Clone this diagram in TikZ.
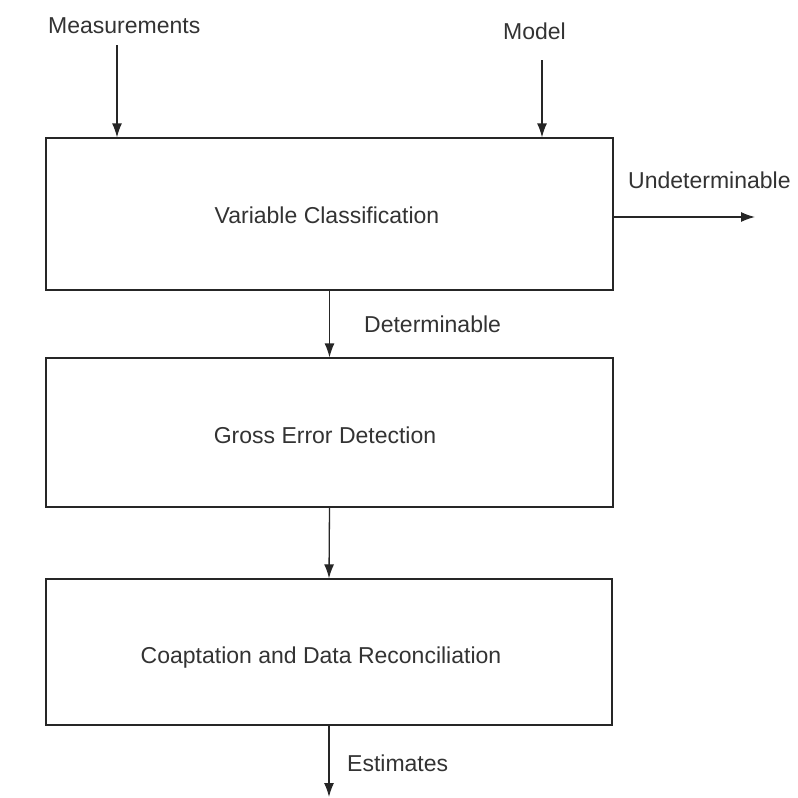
\documentclass[tikz,border=0pt]{standalone}
\usepackage{fontspec}
\setmainfont{Liberation Sans}
\usetikzlibrary{arrows.meta}
\begin{document}
\begin{tikzpicture}[x=1pt,y=-1pt,
  box/.style={draw=black!85,line width=1.3pt,inner sep=0pt,font=\fontsize{23}{27}\selectfont,text=black!80},
  lbl/.style={inner sep=0pt,anchor=base west,font=\fontsize{23}{27}\selectfont,text=black!80},
  arr/.style={draw=black!85,line width=1.3pt,-{Latex[length=14pt,width=10pt]}}]
\useasboundingbox (0,0) rectangle (798,798);
\fill[white] (0,0) rectangle (798,798);
% boxes
\node[box,minimum width=567pt,minimum height=152pt] (b1) at (329.5,214) {};
\node[box,minimum width=567pt,minimum height=149pt] (b2) at (329.5,432.5) {};
\node[box,minimum width=566pt,minimum height=146pt] (b3) at (329,652) {};
% box texts
\node[lbl,anchor=base] (t1) at (327,223) {Variable Classification};
\node[lbl,anchor=base] (t2) at (325,443) {Gross Error Detection};
\node[lbl,anchor=base] (t3) at (321,663) {Coaptation and Data Reconciliation};
% labels
\node[lbl] (meas) at (48,33) {Measurements};
\node[lbl] (model) at (503,39) {Model};
\node[lbl] (und) at (628,188) {Undeterminable};
\node[lbl] (det) at (364,332) {Determinable};
\node[lbl] (est) at (347,771) {Estimates};
% connector endpoints
\coordinate (ms) at (117,45);
\coordinate (mo) at (542,60);
\coordinate (ue) at (755,217);
\coordinate (ee) at (329,797);
% arrows
\draw[arr] (ms) -- (ms |- b1.north);
\draw[arr] (mo) -- (mo |- b1.north);
\draw[arr] (b1.east |- ue) -- (ue);
\draw[arr] (b1.south) -- (b2.north);
\draw[arr] (b2.south) -- (b3.north);
\draw[arr] (b3.south) -- (ee);
\end{tikzpicture}
\end{document}
